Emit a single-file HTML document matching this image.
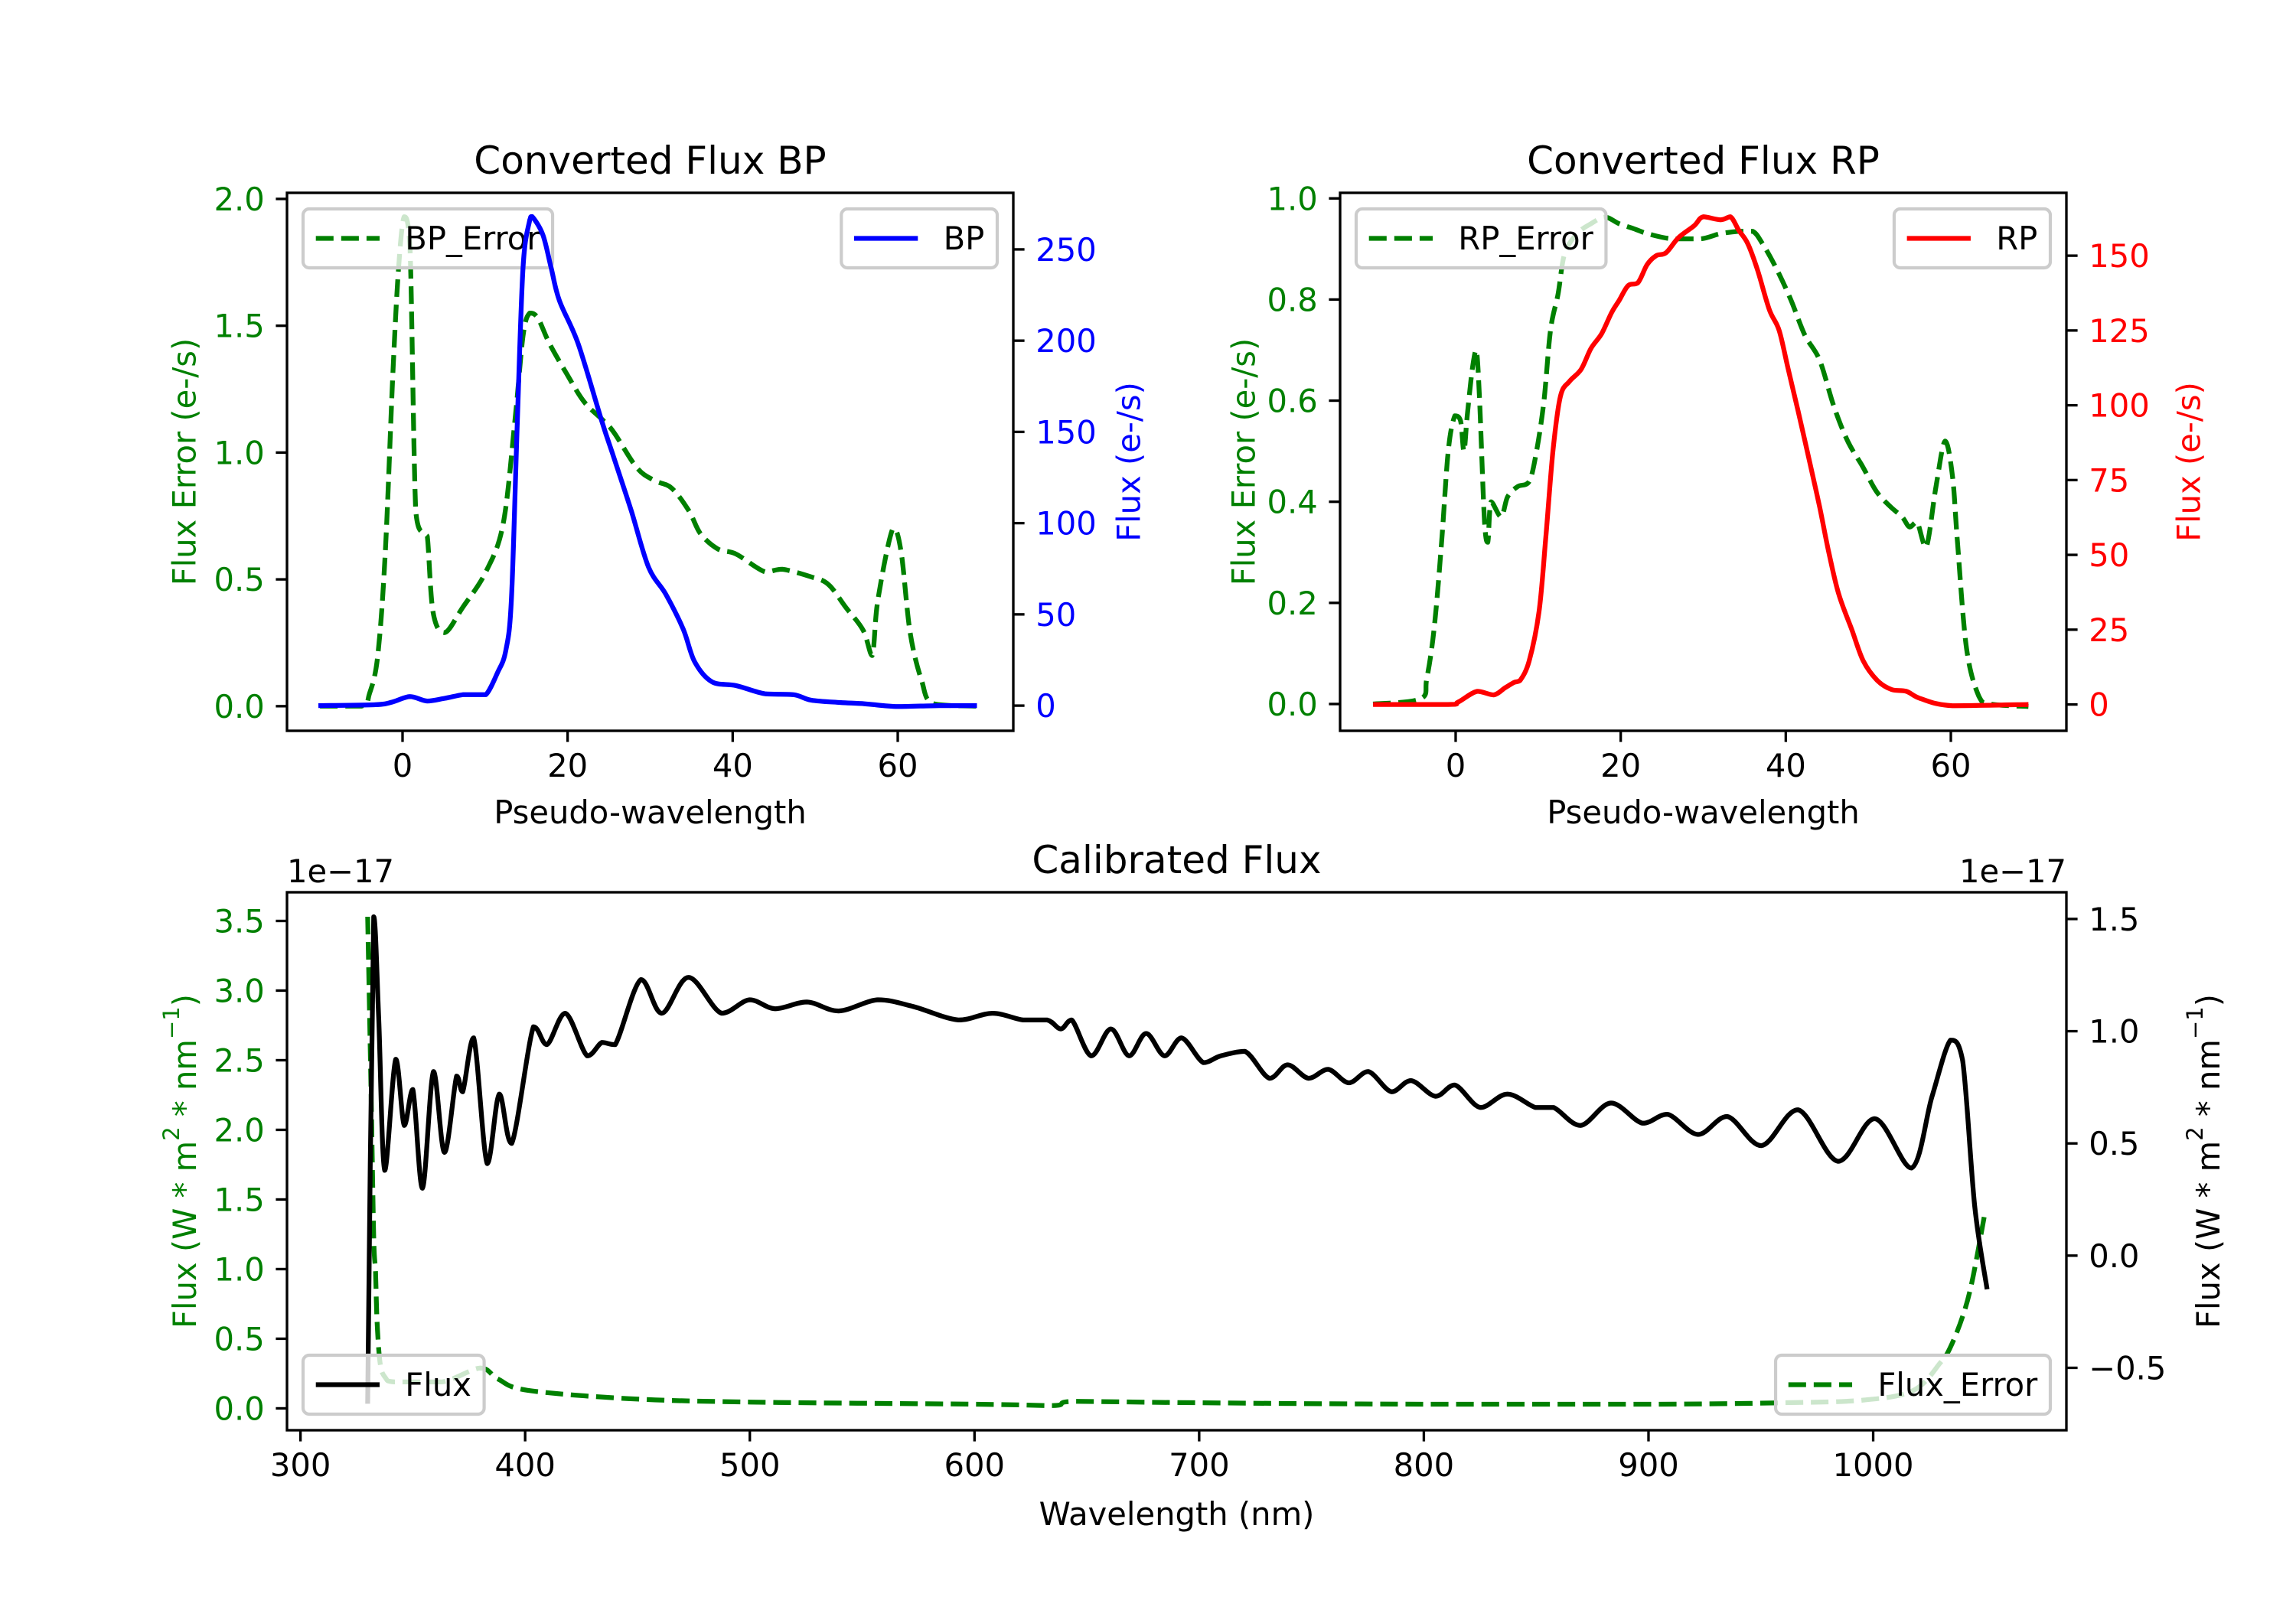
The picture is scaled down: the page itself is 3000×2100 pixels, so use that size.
<!DOCTYPE html>
<html><head><meta charset="utf-8"><style>
html,body{margin:0;padding:0;background:#fff;}
svg{display:block;font-family:"DejaVu Sans","Liberation Sans",sans-serif;}
</style></head><body>
<svg id="fig" xmlns="http://www.w3.org/2000/svg" width="3000" height="2100" viewBox="0 0 3000 2100">
<rect width="3000" height="2100" fill="#fff"/>
</svg>
<script>
// ---- BP data ----
const bpX = [-10.2,-3.3,-1.2,0.9,3,5.1,7.3,8.7,10.1,11.5,12.5,13.2,13.9,14.6,15.4,15.7,17,18,19,21.3,24.2,25.6,27.7,29.8,31.9,34,35.4,37.5,40.4,43.9,47.4,49.5,53,56,60,65,69.6];
const bpFlux = [0,0.5,2,5,2.5,4,6,6,6,18,30,59,155,240,266,268,258,240,222,198,155,136,107,76,61,42,24,13,11,6.5,6,3,1.7,1,-0.5,0,0];
const bpErrX = [-10,-5,-4,-3,-2.1,-1.2,-0.5,0.2,0.9,1.6,2.5,3.0,3.7,5.1,7.3,10.1,12.2,13.6,14.6,15.4,16.4,17.8,19.9,22,24.2,25.6,28.4,30.5,32.6,34.7,36.1,38.2,40.4,43.9,46,49.5,51.6,53.7,55.8,56.9,57.6,59.4,60.4,61.5,62.9,64.3,69.6];
const bpErr = [0,0,0.05,0.2,0.6,1.29,1.72,1.93,1.81,0.77,0.68,0.67,0.37,0.29,0.39,0.53,0.72,1.12,1.46,1.55,1.53,1.43,1.31,1.2,1.13,1.08,0.94,0.89,0.86,0.77,0.68,0.62,0.6,0.53,0.54,0.51,0.48,0.39,0.3,0.2,0.42,0.7,0.61,0.29,0.1,0.01,0];
const bpLeftTicks = [0,0.5,1,1.5,2];
const bpLeftLabels = ["0.0","0.5","1.0","1.5","2.0"];
const bpRightTicks = [0,50,100,150,200,250];
const pxTicks = [0,20,40,60];
// ---- RP data ----
const rpX = [-10,-0.9,0.3,2.6,4.6,6,7.1,7.8,8.9,10.1,10.9,11.8,12.7,13.8,15.2,16.4,17.7,18.9,19.8,20.9,22.1,23.2,24.3,25.5,27,28.9,30,32.1,33.3,34.3,35.4,36.6,38,39.2,40.3,41.5,42.9,44.1,45.2,46.4,48,49.4,51.1,52.8,54.6,56.3,60.2,69.4];
const rpFlux = [0,0,0.8,4.4,3.2,5.6,7.4,8,14.5,31,55,85,103,108,112,119,124,131,135,140,141,147,150,151,156,160,163,162,163,158.5,154,145,132,125,112,98,81,66,51,37,25,14.5,8,5,4.4,2,-0.4,0];
const rpErrX = [-10,-4.3,-3.5,-2.6,-1.7,-0.9,-0.1,0.6,1,1.4,2,2.5,2.9,3.5,3.9,4.3,5.5,6.3,7.5,8.9,9.8,10.7,11.5,12.4,13.2,14.7,16.4,18.1,19.8,21.6,23.3,26.2,29.7,32,34.3,36,37.2,38.9,40.6,42.3,44.1,45.8,47.5,49.3,51,52.7,54.1,55,55.9,57,58.2,59.3,60.2,60.8,61.9,63.4,64.8,69.4];
const rpErr = [0,0.01,0.05,0.15,0.32,0.5,0.57,0.56,0.5,0.57,0.66,0.7,0.6,0.36,0.32,0.4,0.37,0.41,0.43,0.44,0.5,0.6,0.74,0.81,0.89,0.93,0.95,0.963,0.95,0.94,0.93,0.92,0.92,0.93,0.935,0.935,0.91,0.86,0.8,0.73,0.68,0.59,0.52,0.47,0.42,0.39,0.37,0.35,0.36,0.31,0.43,0.52,0.45,0.32,0.11,0.015,0,-0.005];
const rpLeftTicks = [0,0.2,0.4,0.6,0.8,1.0];
const rpLeftLabels = ["0.0","0.2","0.4","0.6","0.8","1.0"];
const rpRightTicks = [0,25,50,75,100,125,150];
// ---- Calibrated data ----
const wl = [329.9,332.6,334.8,337.5,342.4,346.2,350,354.3,359.2,364.1,369.5,372.2,377.1,383.1,388.5,394,403.7,409.7,417.9,427.6,434.2,440.1,451.5,460.8,472.7,487.4,499.9,511.3,525.4,539.5,557,572.7,592.8,608,621.6,632.4,638.4,643.3,652,660.7,668.8,676.4,684.6,692.2,701.9,709.6,720.4,731.3,739.4,748.7,757.4,766.6,775.3,785.6,794.3,805.2,813.8,825.2,837.2,849.7,857.8,869.7,883.3,897.4,908.4,922,935,950.2,966.5,984.4,1000.7,1017,1026.2,1034.4,1039.8,1045.2,1050.7];
const calFlux = [-0.66,1.51,1.06,0.38,0.875,0.58,0.74,0.3,0.82,0.46,0.8,0.73,0.97,0.41,0.72,0.5,1.02,0.94,1.08,0.89,0.95,0.94,1.23,1.08,1.24,1.08,1.14,1.1,1.13,1.09,1.14,1.11,1.05,1.08,1.05,1.05,1.01,1.05,0.89,1.01,0.89,0.99,0.89,0.97,0.86,0.89,0.91,0.79,0.85,0.79,0.83,0.77,0.82,0.73,0.78,0.71,0.76,0.66,0.72,0.66,0.66,0.58,0.68,0.59,0.63,0.54,0.62,0.49,0.65,0.42,0.61,0.39,0.71,0.96,0.87,0.22,-0.15];
const errWl = [329.9,331.5,332.6,333.4,334.1,335.5,337.8,342,363,380,388,401,446,500,600,635,645,700,800,900,960,996,1018,1030,1034.4,1039.8,1044,1049.6];
const calErr = [3.53,2.2,1.23,0.98,0.62,0.32,0.22,0.19,0.19,0.29,0.21,0.13,0.07,0.045,0.03,0.02,0.05,0.04,0.03,0.03,0.04,0.06,0.13,0.33,0.44,0.66,0.91,1.39];
const calLeftTicks = [0,0.5,1,1.5,2,2.5,3,3.5];
const calLeftLabels = ["0.0","0.5","1.0","1.5","2.0","2.5","3.0","3.5"];
const calRightTicks = [-0.5,0,0.5,1.0,1.5];
const calRightLabels = ["\u22120.5","0.0","0.5","1.0","1.5"];
const wlTicks = [300,400,500,600,700,800,900,1000];

const NS = "http://www.w3.org/2000/svg";
const svg = document.getElementById('fig');
function el(tag, attrs, parent, text){
  const e = document.createElementNS(NS, tag);
  for (const k in attrs) e.setAttribute(k, attrs[k]);
  if (text !== undefined) e.textContent = text;
  (parent||svg).appendChild(e);
  return e;
}
const FS = 41.67, LW = 6.25, SW = 3.33, TL = 14.6;
const GREEN='#008000', BLUE='#0000ff', RED='#ff0000';
function lin(d0,d1,r0,r1){ return v => r0 + (v-d0)*(r1-r0)/(d1-d0); }
function clampv(v,a,b){ const lo=Math.min(a,b), hi=Math.max(a,b); return Math.max(lo,Math.min(hi,v)); }
function pathD(xs, ys, sx, sy){
  const P = xs.map((x,i)=>[sx(x), sy(ys[i])]);
  let d = 'M'+P[0][0].toFixed(1)+','+P[0][1].toFixed(1);
  for (let i=0;i<P.length-1;i++){
    const p0=P[Math.max(0,i-1)], p1=P[i], p2=P[i+1], p3=P[Math.min(P.length-1,i+2)];
    const t=0.5/3;
    const c1=[p1[0]+(p2[0]-p0[0])*t, clampv(p1[1]+(p2[1]-p0[1])*t, p1[1], p2[1])];
    const c2=[p2[0]-(p3[0]-p1[0])*t, clampv(p2[1]-(p3[1]-p1[1])*t, p1[1], p2[1])];
    d += ' C'+c1[0].toFixed(1)+','+c1[1].toFixed(1)+' '+c2[0].toFixed(1)+','+c2[1].toFixed(1)+' '+p2[0].toFixed(1)+','+p2[1].toFixed(1);
  }
  return d;
}
let clipN=0;
function makeClip(x0,y0,x1,y1){
  const id='clip'+(clipN++);
  const cp = el('clipPath',{id:id});
  el('rect',{x:x0,y:y0,width:x1-x0,height:y1-y0},cp);
  return 'url(#'+id+')';
}
function legend(parent, x, y, anchorRight, label, color, dashed, name){
  const g = el('g',{}, parent);
  
  
  const box = el('rect',{x:0,y:y,width:10,height:77,rx:8,fill:'#fff','fill-opacity':0.8,stroke:'#cccccc','stroke-width':4.17},g);
  const line = el('line',{y1:y+38.5,y2:y+38.5,stroke:color,'stroke-width':LW},g);
  if (dashed) line.setAttribute('stroke-dasharray','23.1 10');
  const t = el('text',{y:y+53,'font-size':FS,fill:'#000'},g,label);
  const tw = t.getComputedTextLength();
  const w = 16.7*2 + 83.3 + 33.3 + tw;
  const x0 = anchorRight ? x - w : x;
  box.setAttribute('x', x0); box.setAttribute('width', w);
  line.setAttribute('x1', x0+16.7); line.setAttribute('x2', x0+16.7+83.3);
  t.setAttribute('x', x0+16.7+83.3+33.3);
}
function drawAxes(cfg){
  const g = el('g',{});
  
  
  const {x0,x1,y0,y1} = cfg;
  const sx = lin(cfg.xd[0],cfg.xd[1],x0,x1);
  const syL = lin(cfg.yl[0],cfg.yl[1],y1,y0);
  const syR = lin(cfg.yr[0],cfg.yr[1],y1,y0);
  const clip = makeClip(x0,y0,x1,y1);
  cfg.lines1.forEach(L=>{
    const p = el('path',{d:pathD(L.x,L.y,sx,syL),fill:'none',stroke:L.color,'stroke-width':LW,'clip-path':clip,'stroke-linejoin':'round'},g);
    if (L.dash) p.setAttribute('stroke-dasharray','23.1 10');
    
    
  });
  if (cfg.leg1) legend(g, cfg.leg1.x, cfg.leg1.y, cfg.leg1.right, cfg.leg1.label, cfg.leg1.color, cfg.leg1.dash, cfg.leg1.name);
  cfg.lines2.forEach(L=>{
    const p = el('path',{d:pathD(L.x,L.y,sx,syR),fill:'none',stroke:L.color,'stroke-width':LW,'clip-path':clip,'stroke-linejoin':'round'},g);
    if (L.dash) p.setAttribute('stroke-dasharray','23.1 10');
    
    
  });
  if (cfg.leg2) legend(g, cfg.leg2.x, cfg.leg2.y, cfg.leg2.right, cfg.leg2.label, cfg.leg2.color, cfg.leg2.dash, cfg.leg2.name);
  el('rect',{x:x0,y:y0,width:x1-x0,height:y1-y0,fill:'none',stroke:'#000','stroke-width':SW},g);
  cfg.xt.forEach(v=>{
    const X=sx(v);
    el('line',{x1:X,x2:X,y1:y1,y2:y1+TL,stroke:'#000','stroke-width':SW},g);
    const t = el('text',{x:X,y:y1+TL+14.6+31,'font-size':FS,'text-anchor':'middle',fill:'#000'},g,String(v));
    
    
  });
  cfg.ylt.forEach((v,i)=>{
    const Y=syL(v);
    el('line',{x1:x0-TL,x2:x0,y1:Y,y2:Y,stroke:'#000','stroke-width':SW},g);
    const t = el('text',{x:x0-TL-14.6,y:Y+15,'font-size':FS,'text-anchor':'end',fill:cfg.lcol},g,cfg.yll[i]);
    
    
  });
  cfg.yrt.forEach((v,i)=>{
    const Y=syR(v);
    el('line',{x1:x1,x2:x1+TL,y1:Y,y2:Y,stroke:'#000','stroke-width':SW},g);
    const t = el('text',{x:x1+TL+14.6,y:Y+15,'font-size':FS,'text-anchor':'start',fill:cfg.rcol},g,cfg.yrl[i]);
    
    
  });
  return g;
}
function txt(x,y,s,opts,name){
  const t = el('text',Object.assign({x:x,y:y,'font-size':FS,fill:'#000'},opts||{}),svg,s);
  
  
  return t;
}
function vtext(x,y,s,color,name,sup){
  const t = el('text',{x:0,y:0,'font-size':FS,fill:color,'text-anchor':'middle','dominant-baseline':'central',transform:'translate('+x+','+y+') rotate(-90)'},svg);
  if (!sup) t.textContent = s;
  else {
    sup.forEach(p=>{
      el('tspan', p.sup ? {'font-size':29,'baseline-shift':'super'} : {}, t, p.s);
    });
  }
  
  
}

drawAxes({name:'bp-panel',x0:375,x1:1324,y0:252,y1:955,xd:[-14,74],yl:[-0.097,2.024],yr:[-13.8,281],
  lines1:[{x:bpErrX,y:bpErr,color:GREEN,dash:true,name:'bp-error-line'}],
  lines2:[{x:bpX,y:bpFlux,color:BLUE,name:'bp-flux-line'}],
  leg1:{x:396,y:273,right:false,label:'BP_Error',color:GREEN,dash:true,name:'legend-bp-error'},
  leg2:{x:1303,y:273,right:true,label:'BP',color:BLUE,dash:false,name:'legend-bp'},
  xt:pxTicks,ylt:bpLeftTicks,yll:bpLeftLabels,yrt:bpRightTicks,yrl:bpRightTicks.map(String),lcol:GREEN,rcol:BLUE});
drawAxes({name:'rp-panel',x0:1751,x1:2700,y0:252,y1:955,xd:[-14,74],yl:[-0.053,1.011],yr:[-8.8,171],
  lines1:[{x:rpErrX,y:rpErr,color:GREEN,dash:true,name:'rp-error-line'}],
  lines2:[{x:rpX,y:rpFlux,color:RED,name:'rp-flux-line'}],
  leg1:{x:1772,y:273,right:false,label:'RP_Error',color:GREEN,dash:true,name:'legend-rp-error'},
  leg2:{x:2679,y:273,right:true,label:'RP',color:RED,dash:false,name:'legend-rp'},
  xt:pxTicks,ylt:rpLeftTicks,yll:rpLeftLabels,yrt:rpRightTicks,yrl:rpRightTicks.map(String),lcol:GREEN,rcol:RED});
drawAxes({name:'calibrated-panel',x0:375,x1:2700,y0:1166,y1:1869,xd:[294,1086],yl:[-0.157,3.706],yr:[-0.778,1.619],
  lines1:[{x:errWl,y:calErr,color:GREEN,dash:true,name:'flux-error-line'}],
  lines2:[{x:wl,y:calFlux,color:'#000',name:'flux-line'}],
  leg1:null,leg2:null,
  xt:wlTicks,ylt:calLeftTicks,yll:calLeftLabels,yrt:calRightTicks,yrl:calRightLabels,lcol:GREEN,rcol:'#000'});
legend(svg, 396, 1771, false, 'Flux', '#000', false, 'legend-flux');
legend(svg, 2679, 1771, true, 'Flux_Error', GREEN, true, 'legend-flux-error');

txt(849.5,227,'Converted Flux BP',{'font-size':50,'text-anchor':'middle'},'bp-title');
txt(2225.5,227,'Converted Flux RP',{'font-size':50,'text-anchor':'middle'},'rp-title');
txt(1537.5,1141,'Calibrated Flux',{'font-size':50,'text-anchor':'middle'},'calibrated-title');
txt(849.5,1076,'Pseudo-wavelength',{'text-anchor':'middle'},'bp-x-axis-title');
txt(2225.5,1076,'Pseudo-wavelength',{'text-anchor':'middle'},'rp-x-axis-title');
txt(1537.5,1993,'Wavelength (nm)',{'text-anchor':'middle'},'calibrated-x-axis-title');
txt(375,1153,'1e\u221217',{},'left-offset-text');
txt(2700,1153,'1e\u221217',{'text-anchor':'end'},'right-offset-text');
vtext(241,603.5,'Flux Error (e-/s)',GREEN,'bp-left-y-axis-title');
vtext(1475,603.5,'Flux (e-/s)',BLUE,'bp-right-y-axis-title');
vtext(1625,603.5,'Flux Error (e-/s)',GREEN,'rp-left-y-axis-title');
vtext(2860,603.5,'Flux (e-/s)',RED,'rp-right-y-axis-title');
const unitParts = [{s:'Flux (W * m'},{s:'2',sup:true},{s:' * nm'},{s:'\u22121',sup:true},{s:')'}];
vtext(241,1517.5,'',GREEN,'calibrated-left-y-axis-title',unitParts);
vtext(2885,1517.5,'',"#000",'calibrated-right-y-axis-title',unitParts);
</script>
</body></html>
